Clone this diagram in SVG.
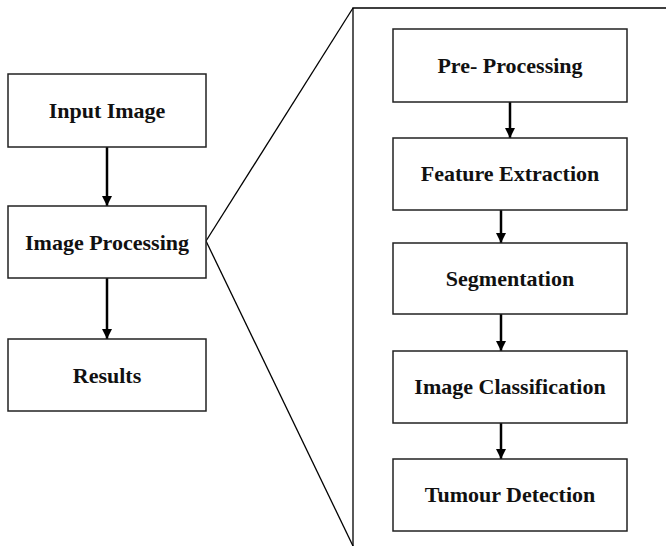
<svg xmlns="http://www.w3.org/2000/svg" width="666" height="546" viewBox="0 0 666 546">
<style>
.box{fill:#fff;stroke:#222;stroke-width:1.5}
.lbl{font-family:"Liberation Serif","Times New Roman",serif;font-weight:bold;font-size:22px;fill:#111;text-anchor:middle}
.arr{stroke:#000;stroke-width:2.5;fill:none}
.thin{stroke:#000;stroke-width:1.3;fill:none}
</style>
<defs>
<marker id="ah" viewBox="0 0 10 10" refX="10" refY="5" markerWidth="4" markerHeight="4.5" orient="auto" markerUnits="strokeWidth">
<path d="M0,0 L10,5 L0,10 z" fill="#000"/>
</marker>
</defs>
<g id="connectors">
<path class="thin" d="M666,8 L353,8 L353,546"/>
<path class="thin" d="M206,241 L353,8"/>
<path class="thin" d="M206,241 L353,546"/>
<line class="arr" x1="107" y1="147" x2="107" y2="206" marker-end="url(#ah)"/>
<line class="arr" x1="107" y1="278" x2="107" y2="339" marker-end="url(#ah)"/>
<line class="arr" x1="510" y1="102" x2="510" y2="138" marker-end="url(#ah)"/>
<line class="arr" x1="501" y1="210" x2="501" y2="243" marker-end="url(#ah)"/>
<line class="arr" x1="501" y1="314" x2="501" y2="351" marker-end="url(#ah)"/>
<line class="arr" x1="501" y1="423" x2="501" y2="459" marker-end="url(#ah)"/>
</g>
<g id="input-image"><rect class="box" x="8" y="74" width="198" height="73"/><text class="lbl" x="107" y="118">Input Image</text></g>
<g id="image-processing"><rect class="box" x="8" y="206" width="198" height="72"/><text class="lbl" x="107" y="250">Image Processing</text></g>
<g id="results"><rect class="box" x="8" y="339" width="198" height="72"/><text class="lbl" x="107" y="383">Results</text></g>
<g id="pre-processing"><rect class="box" x="393" y="29" width="234" height="73"/><text class="lbl" x="510" y="73">Pre- Processing</text></g>
<g id="feature-extraction"><rect class="box" x="393" y="138" width="234" height="72"/><text class="lbl" x="510" y="181">Feature Extraction</text></g>
<g id="segmentation"><rect class="box" x="393" y="243" width="234" height="71"/><text class="lbl" x="510" y="286">Segmentation</text></g>
<g id="image-classification"><rect class="box" x="393" y="351" width="234" height="72"/><text class="lbl" x="510" y="394">Image Classification</text></g>
<g id="tumour-detection"><rect class="box" x="393" y="459" width="234" height="72"/><text class="lbl" x="510" y="502">Tumour Detection</text></g>
</svg>
